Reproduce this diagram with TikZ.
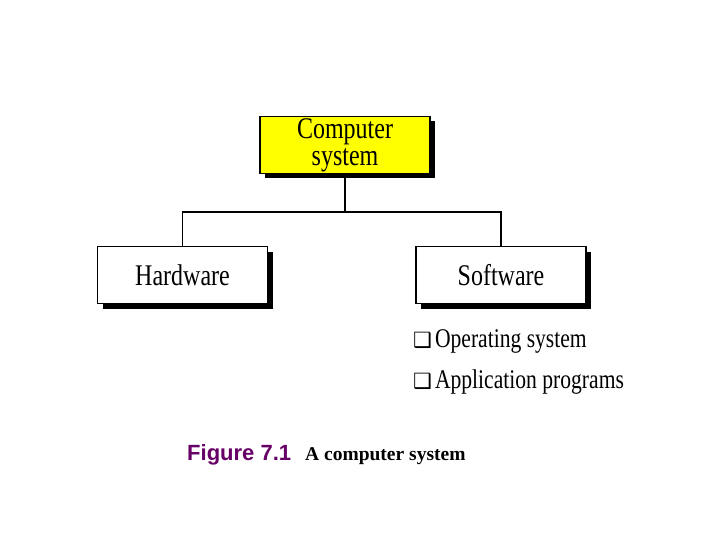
\documentclass[tikz,border=0pt]{standalone}
\usepackage{fontspec}
\setmainfont{Liberation Serif}
\newfontfamily\boxfont{Liberation Serif}[FakeStretch=0.8]
\newfontfamily\figfont{Liberation Sans}
\newfontfamily\symfont{DejaVu Sans}
\definecolor{BoxYellow}{RGB}{255,255,0}
\definecolor{FigPurple}{RGB}{102,0,102}
\usetikzlibrary{
    positioning,
    shadows,
}

\begin{document}
\begin{tikzpicture}[
        x=1pt, y=-1pt,
        unit/.style={rectangle, draw=black, line width=1.3pt, fill=#1, minimum width=170pt, minimum height=57pt,
            font=\boxfont\fontsize{30}{27}\selectfont, align=center, inner sep=0pt,
            drop shadow={shadow xshift=5pt, shadow yshift=-5pt, fill=black, opacity=1}},
        unit/.default=white,
        item/.style={anchor=base west, inner sep=0pt, font=\boxfont\fontsize{27}{27}\selectfont},
        link/.style={line width=1.3pt},
    ]
        \useasboundingbox (0,0) rectangle (720,540);
        \node[unit=BoxYellow] (comp) at (345,145) {Computer\\system};
        \node[unit] (hw) at (182.5,275) {Hardware};
        \node[unit] (sw) at (501,275) {Software};
        \coordinate (bus) at (comp.south |- 0,212);
        \draw[link] (comp.south) -- (bus);
        \draw[link] (hw.north) |- (bus) -| (sw.north);
        \node[item] (os) at (413,347) {{\symfont\fontsize{21}{21}\selectfont ❑}\kern3pt Operating system};
        \node[item] (app) at (413,388) {{\symfont\fontsize{21}{21}\selectfont ❑}\kern3pt Application programs};
        \node[anchor=base west, inner sep=0pt, font=\figfont\bfseries\fontsize{22}{22}\selectfont, text=FigPurple] (fig) at (187,460) {Figure 7.1};
        \node[anchor=base west, inner sep=0pt, font=\bfseries\fontsize{19.5}{19.5}\selectfont] (cap) at (305,460) {A computer system};
    \end{tikzpicture}
\end{document}
